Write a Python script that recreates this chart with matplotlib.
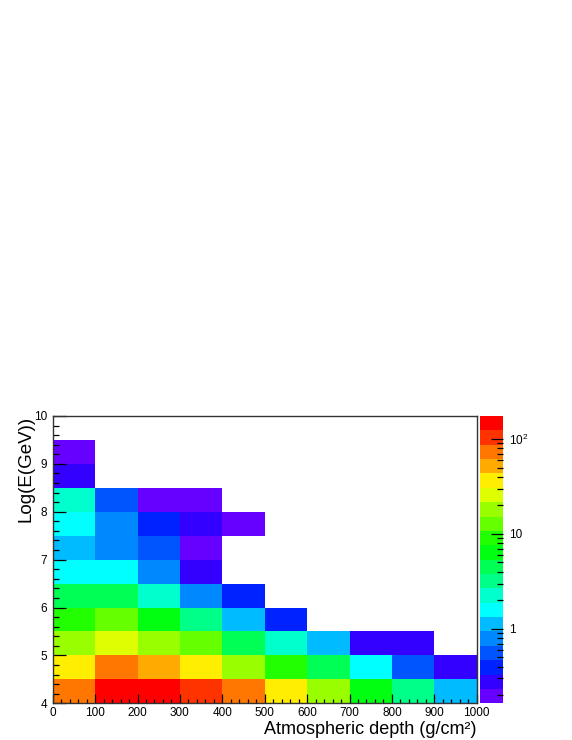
import numpy as np
import matplotlib
matplotlib.use('Agg')
import matplotlib.pyplot as plt
from matplotlib.colors import ListedColormap, LogNorm
from matplotlib.ticker import MultipleLocator, LogLocator, FixedLocator, FixedFormatter

plt.rcParams['font.family'] = ['Liberation Sans', 'DejaVu Sans']
plt.rcParams['mathtext.fontset'] = 'custom'
plt.rcParams['mathtext.rm'] = 'Liberation Sans'
plt.rcParams['mathtext.it'] = 'Liberation Sans'

# ── бины гистограммы ──────────────────────────────────────────────────────
x_edges = np.arange(0, 1001, 100)          # атмосферная глубина, г/см^2
y_edges = np.arange(4.0, 10.01, 0.5)       # Log(E/GeV)

# содержимое ячеек: строки по Log(E) снизу вверх, столбцы по глубине; 0 = пусто
counts = np.array([
    [73, 147, 150, 104, 73, 36, 18, 6.4, 3.2, 1.1],       # 4.0-4.5
    [36, 73, 52, 36, 18, 9.0, 4.5, 1.6, 0.56, 0.28],      # 4.5-5.0
    [18, 26, 18, 13, 4.5, 2.2, 1.1, 0.28, 0.28, 0],       # 5.0-5.5
    [9.0, 13, 6.4, 3.2, 1.1, 0.39, 0, 0, 0, 0],           # 5.5-6.0
    [4.5, 4.5, 2.2, 0.79, 0.39, 0, 0, 0, 0, 0],           # 6.0-6.5
    [1.6, 1.6, 0.79, 0.28, 0, 0, 0, 0, 0, 0],             # 6.5-7.0
    [1.1, 0.79, 0.56, 0.2, 0, 0, 0, 0, 0, 0],             # 7.0-7.5
    [1.6, 0.79, 0.39, 0.28, 0.2, 0, 0, 0, 0, 0],          # 7.5-8.0
    [2.2, 0.56, 0.2, 0.2, 0, 0, 0, 0, 0, 0],              # 8.0-8.5
    [0.28, 0, 0, 0, 0, 0, 0, 0, 0, 0],                    # 8.5-9.0
    [0.2, 0, 0, 0, 0, 0, 0, 0, 0, 0],                     # 9.0-9.5
    [0, 0, 0, 0, 0, 0, 0, 0, 0, 0],                       # 9.5-10
])

z_min, z_max = 0.164, 175.0

# палитра ROOT (20 уровней) снизу вверх
palette = ["#6600ff", "#3300ff", "#0022ff", "#0055ff", "#0088ff",
           "#00bbff", "#00ffff", "#00ffcc", "#00ff88", "#00ff55",
           "#00ff11", "#22ff00", "#66ff00", "#99ff00", "#ddff00",
           "#ffee00", "#ffaa00", "#ff7700", "#ff3300", "#ff0000"]

cbar_ticks = [1, 10, 100]
cbar_labels = ['1', '10', r'$10^{2}$']

# ── рисунок ───────────────────────────────────────────────────────────────
W, H = 572, 740
fig = plt.figure(figsize=(W / 100, H / 100), dpi=100)

ax_l, ax_r = 52.7, 476.7
ax_t, ax_b = 416.0, 703.3
ax = fig.add_axes([ax_l / W, (H - ax_b) / H, (ax_r - ax_l) / W, (ax_b - ax_t) / H])
cax = fig.add_axes([479.5 / W, (H - ax_b) / H, 23.5 / W, (ax_b - ax_t) / H])

cmap = ListedColormap(palette)
data = np.ma.masked_less_equal(counts, 0)
mesh = ax.pcolormesh(x_edges, y_edges, data, cmap=cmap,
                     norm=LogNorm(vmin=z_min, vmax=z_max))

ax.set_xlim(0, 1000)
ax.set_ylim(4, 10)
ax.xaxis.set_major_locator(MultipleLocator(100))
ax.xaxis.set_minor_locator(MultipleLocator(20))
ax.yaxis.set_major_locator(MultipleLocator(1))
ax.yaxis.set_minor_locator(MultipleLocator(0.2))
ax.tick_params(axis='x', which='major', direction='in', length=6.2, width=0.9,
               labelsize=8.5, pad=3, top=False)
ax.tick_params(axis='x', which='minor', direction='in', length=3.1, width=0.9, top=False)
ax.tick_params(axis='y', which='major', direction='in', length=9.1, width=0.9,
               labelsize=8.5, pad=4, right=False)
ax.tick_params(axis='y', which='minor', direction='in', length=4.6, width=0.9, right=False)
for sp in ax.spines.values():
    sp.set_color('#333333')
    sp.set_linewidth(1.0)

ax.set_xlabel('Atmospheric depth (g/cm²)', fontsize=13, ha='right', va='baseline')
ax.xaxis.set_label_coords(1.0, -0.108)
ax.set_ylabel('Log(E(GeV))', fontsize=13.5, ha='right')
ax.yaxis.set_label_coords(-0.043, 1.0)

cb = fig.colorbar(mesh, cax=cax)
cb.outline.set_visible(False)
cax.yaxis.set_major_locator(FixedLocator(cbar_ticks))
cax.yaxis.set_major_formatter(FixedFormatter(cbar_labels))
cax.yaxis.set_minor_locator(LogLocator(base=10, subs=np.arange(2, 10)))
cax.yaxis.set_minor_formatter(FixedFormatter([]))
cax.tick_params(which='major', direction='in', length=9, width=0.9,
                labelsize=8.5, pad=4, right=True, left=False)
cax.tick_params(which='minor', direction='in', length=4.5, width=0.9,
                right=True, left=False)

fig.savefig('out.png', dpi=100)
